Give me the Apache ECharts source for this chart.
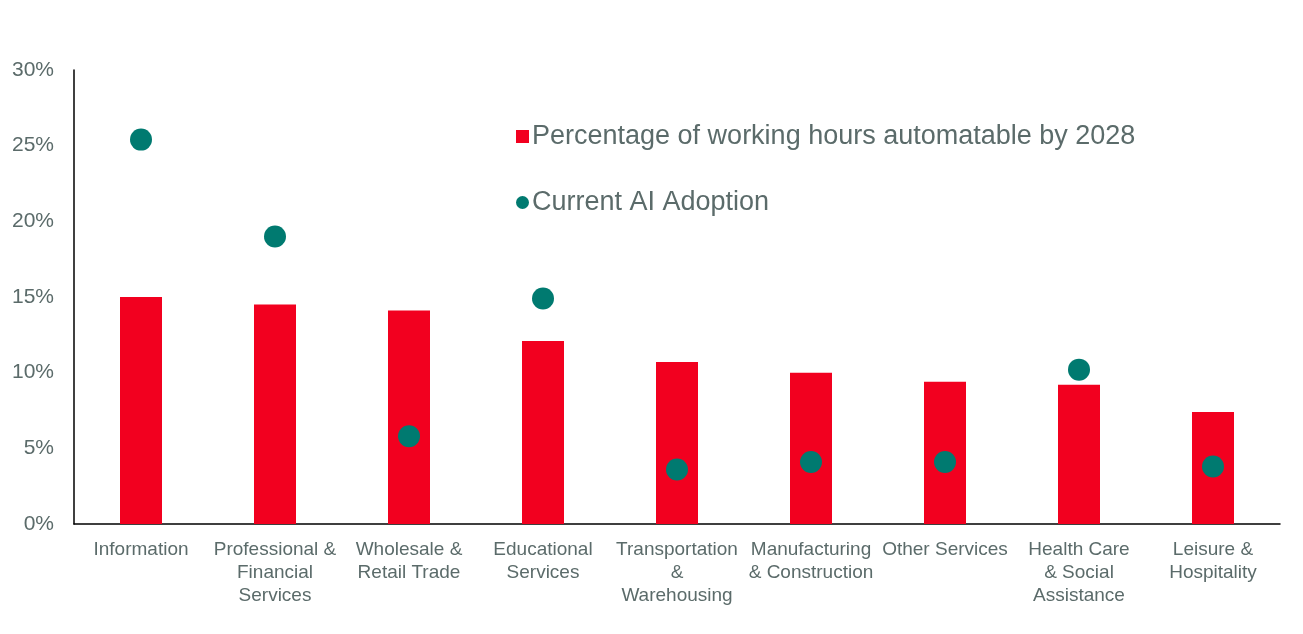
<!DOCTYPE html>
<html>
<head>
<meta charset="utf-8">
<script src="https://cdn.jsdelivr.net/npm/echarts@6/dist/echarts.min.js"></script>
<style>
  html, body { margin: 0; padding: 0; background: #fff; }
  #chart { width: 1303px; height: 634px; }
</style>
</head>
<body>
<div id="chart"></div>
<script>
const categories = [
    'Information',
    'Professional &\nFinancial\nServices',
    'Wholesale &\nRetail Trade',
    'Educational\nServices',
    'Transportation\n&\nWarehousing',
    'Manufacturing\n& Construction',
    'Other Services',
    'Health Care\n& Social\nAssistance',
    'Leisure &\nHospitality'
];
const automatable = [15.0, 14.5, 14.1, 12.1, 10.7, 10.0, 9.4, 9.2, 7.4];
const aiAdoption = [25.4, 19.0, 5.8, 14.9, 3.6, 4.1, 4.1, 10.2, 3.8];

const textColor = '#5b6b6a';
const fontFamily = '"Liberation Sans", Arial, sans-serif';

const chart = echarts.init(document.getElementById('chart'));

const option = {
    animation: false,
    textStyle: { fontFamily: fontFamily },
    legend: {
        orient: 'vertical',
        left: 511,
        top: 118,
        itemGap: 39,
        itemWidth: 13,
        itemHeight: 13,
        textStyle: { color: textColor, fontSize: 27, fontFamily: fontFamily, padding: [0, 0, 0, -2] },
        data: [
            { name: 'Percentage of working hours automatable by 2028', icon: 'rect' },
            { name: 'Current AI Adoption', icon: 'circle' }
        ]
    },
    grid: {
        left: 74,
        right: 23,
        top: 70,
        bottom: 110
    },
    xAxis: {
        type: 'category',
        data: categories,
        axisLine: { lineStyle: { color: '#000', width: 1.5 } },
        axisTick: { show: false },
        axisLabel: {
            interval: 0,
            color: textColor,
            fontSize: 19,
            lineHeight: 23,
            margin: 14
        }
    },
    yAxis: {
        type: 'value',
        min: 0,
        max: 30,
        interval: 5,
        axisLine: { show: true, lineStyle: { color: '#000', width: 1.5 } },
        axisTick: { show: false },
        splitLine: { show: false },
        axisLabel: {
            color: textColor,
            fontSize: 21,
            margin: 20,
            formatter: '{value}%'
        }
    },
    series: [
        {
            name: 'Percentage of working hours automatable by 2028',
            type: 'bar',
            data: automatable,
            barWidth: 42,
            itemStyle: { color: '#f2001f' }
        },
        {
            name: 'Current AI Adoption',
            type: 'scatter',
            data: aiAdoption,
            symbol: 'circle',
            symbolSize: 22,
            itemStyle: { color: '#007a70', opacity: 1 }
        }
    ]
};

chart.setOption(option);
window.addEventListener('resize', () => chart.resize());
</script>
</body>
</html>
